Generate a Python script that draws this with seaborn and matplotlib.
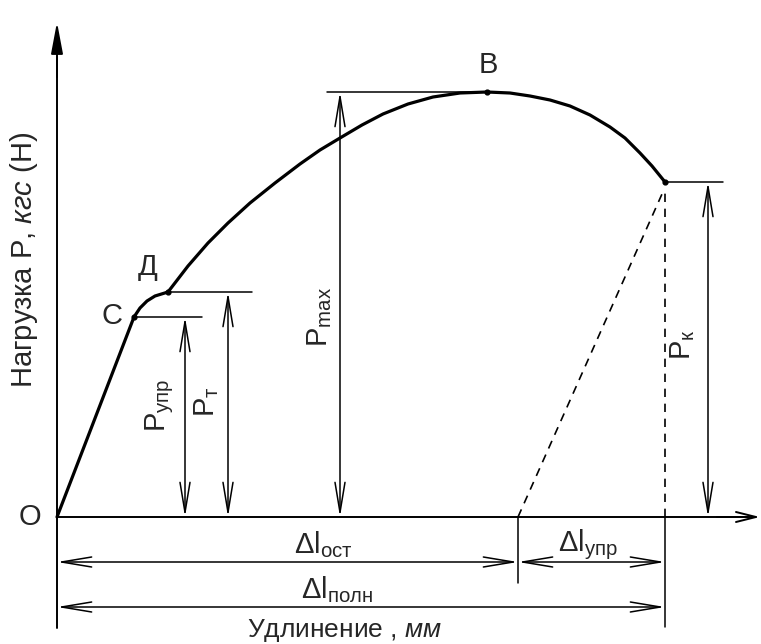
import numpy as np
import pandas as pd
import matplotlib
matplotlib.use("Agg")
import matplotlib.pyplot as plt
import seaborn as sns

# ---- data (elongation, load) in drawing units, origin at O ----
curve_x = [0, 77, 83, 90, 98, 111, 131, 151, 171, 193, 218, 243, 263, 283, 305,
           326, 351, 376, 403, 430, 453, 473, 493, 513, 533, 553, 568, 583, 595, 608]
curve_y = [0, 200, 209, 216, 221, 225, 251, 274, 294, 314, 334, 353, 367, 379, 392,
           403, 413, 420, 424, 425, 424, 421, 417, 411, 402, 390, 379, 364, 351, 335]

point_names = ["C", "Д", "B"]
point_x = [77, 111, 430]
point_y = [200, 225, 425]

P_upr, P_t, P_max, P_k = 200, 225, 425, 335
dl_ost, dl_poln = 461, 608

sns.set_theme(style="white")
plt.rcParams["font.family"] = ["Liberation Sans", "DejaVu Sans"]
plt.rcParams["mathtext.fontset"] = "custom"
plt.rcParams["mathtext.rm"] = "Liberation Sans"
plt.rcParams["mathtext.it"] = "Liberation Sans:italic"
plt.rcParams["mathtext.sf"] = "Liberation Sans"

fig = plt.figure(figsize=(7.61, 6.44), dpi=100)
ax = fig.add_axes([0, 0, 1, 1])
ax.set_xlim(-57, 704)
ax.set_ylim(-127, 517)
ax.axis("off")

K = "black"
lw_thin = 1.1

df = pd.DataFrame({"x": curve_x, "y": curve_y})
sns.lineplot(data=df, x="x", y="y", sort=False, color=K, lw=2.3, ax=ax, estimator=None)
ax.scatter(point_x + [curve_x[-1]], point_y + [curve_y[-1]], s=12, color=K, zorder=5)

# axes with arrows
ax.plot([0, 0], [-111, 460], color=K, lw=1.4)
ax.annotate("", xy=(0, 495), xytext=(0, 440),
            arrowprops=dict(arrowstyle="-|>,head_length=1.6,head_width=0.3", color=K, lw=1.4,
                            shrinkA=0, shrinkB=0))
ax.plot([0, 690], [0, 0], color=K, lw=1.4)
ax.annotate("", xy=(703, 0), xytext=(660, 0),
            arrowprops=dict(arrowstyle="->,head_length=1.2,head_width=0.3", color=K, lw=1.4,
                            shrinkA=0, shrinkB=0))

# extension lines (horizontal)
ax.plot([point_x[0], 145], [P_upr, P_upr], color=K, lw=lw_thin)
ax.plot([point_x[1], 195], [P_t, P_t], color=K, lw=lw_thin)
ax.plot([270, point_x[2]], [P_max, P_max], color=K, lw=lw_thin)
ax.plot([dl_poln, 666], [P_k, P_k], color=K, lw=lw_thin)

# dashed lines
ax.plot([dl_ost, dl_poln - 3], [0, P_k - 12], color=K, lw=1.2, ls=(0, (5, 4)))
ax.plot([dl_poln, dl_poln], [0, P_k - 8], color=K, lw=1.2, ls=(0, (5, 4)))

# extension lines (vertical, below axis)
ax.plot([dl_ost, dl_ost], [0, -66], color=K, lw=lw_thin)
ax.plot([dl_poln, dl_poln], [0, -110], color=K, lw=lw_thin)

arrow = dict(arrowstyle="<->,head_length=1.8,head_width=0.3", color=K, lw=lw_thin,
             shrinkA=0, shrinkB=0)

def dim(x0, y0, x1, y1):
    ax.annotate("", xy=(x1, y1), xytext=(x0, y0), arrowprops=arrow)

dim(128, 0, 128, P_upr)
dim(171, 0, 171, P_t)
dim(283, 0, 283, P_max)
dim(651, 0, 651, P_k)
dim(0, -45, dl_ost, -45)
dim(dl_ost, -45, dl_poln, -45)
dim(0, -90, dl_poln, -90)

fs = 21
ax.text(-27, 0, "О", fontsize=fs, ha="center", va="center")
ax.text(55, 201, "С", fontsize=fs, ha="center", va="center")
ax.text(91, 250, "Д", fontsize=fs, ha="center", va="center")
ax.text(431, 452, "В", fontsize=fs, ha="center", va="center")

ax.text(103, 112, r"$\mathrm{P}_{\mathrm{упр}}$", fontsize=fs, rotation=90, ha="center", va="center")
ax.text(150, 115, r"$\mathrm{P}_{\mathrm{т}}$", fontsize=fs, rotation=90, ha="center", va="center")
ax.text(263, 200, r"$\mathrm{P}_{\mathrm{max}}$", fontsize=fs, rotation=90, ha="center", va="center")
ax.text(626, 172, r"$\mathrm{P}_{\mathrm{к}}$", fontsize=fs, rotation=90, ha="center", va="center")

ax.text(266, -28, r"$\Delta\mathrm{l}_{\mathrm{ост}}$", fontsize=fs, ha="center", va="center")
ax.text(531, -28, r"$\Delta\mathrm{l}_{\mathrm{упр}}$", fontsize=fs, ha="center", va="center")
ax.text(280, -73, r"$\Delta\mathrm{l}_{\mathrm{полн}}$", fontsize=fs, ha="center", va="center")
ax.text(288, -113, r"Удлинение , $\mathit{мм}$", fontsize=19, ha="center", va="center")
ax.text(-33, 257, r"Нагрузка Р, $\mathit{кгс}$ (Н)", fontsize=fs, rotation=90, ha="center", va="center")

fig.savefig("out.png", dpi=100)
